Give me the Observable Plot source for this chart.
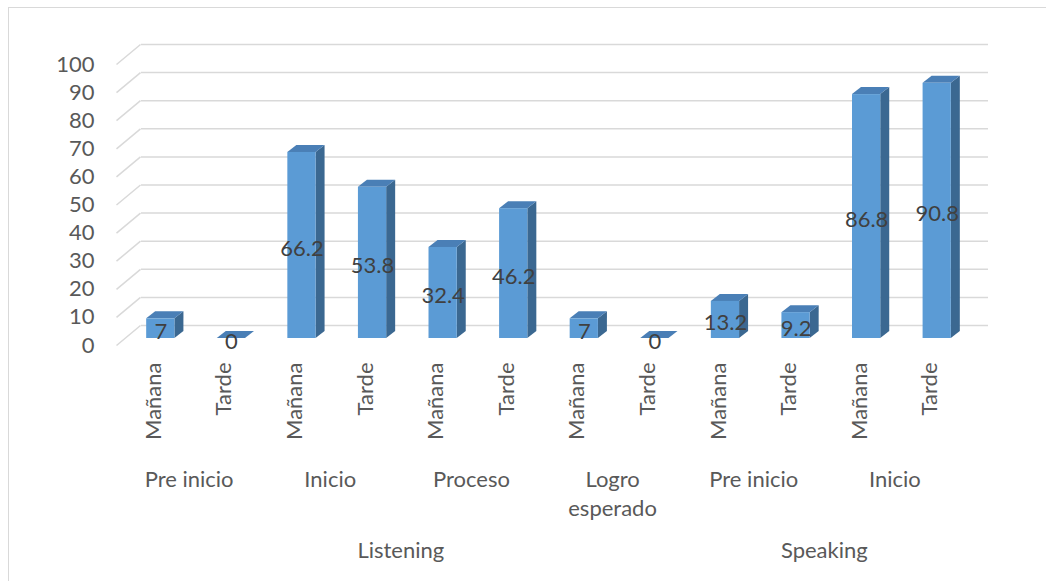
<!DOCTYPE html>
<html><head><meta charset="utf-8">
<script src="https://cdn.jsdelivr.net/npm/d3@7"></script>
<script src="https://cdn.jsdelivr.net/npm/@observablehq/plot@0.6"></script>
<style>
body{margin:0;background:#fff;overflow:hidden}
#chart{position:absolute;left:0;top:0}
#frame{position:absolute;left:8px;top:7px;width:1100px;height:640px;border-left:1.5px solid #d9d9d9;border-top:1.5px solid #d9d9d9;pointer-events:none}
</style></head><body>
<div id="chart"></div><div id="frame"></div>
<script>
// ---- data ----
const categories = ["Mañana","Tarde","Mañana","Tarde","Mañana","Tarde","Mañana","Tarde","Mañana","Tarde","Mañana","Tarde"];
const levels = ["Pre inicio","Pre inicio","Inicio","Inicio","Proceso","Proceso","Logro\nesperado","Logro\nesperado","Pre inicio","Pre inicio","Inicio","Inicio"];
const skills = ["Listening","Listening","Listening","Listening","Listening","Listening","Listening","Listening","Speaking","Speaking","Speaking","Speaking"];
const values = [7, 0, 66.2, 53.8, 32.4, 46.2, 7, 0, 13.2, 9.2, 86.8, 90.8];
const yTicks = [0,10,20,30,40,50,60,70,80,90,100];

// ---- layout ----
const W = 1046, H = 581, ML = 125, MR = 74, MT = 57, MB = 243;
const kx = (W - ML - MR) / categories.length; // px per x unit
const ky = (H - MT - MB) / 100;               // px per y unit
const half = 0.2;                 // half bar width (x units)
const dX = 9 / kx, dY = 7 / ky;   // bar depth
const FONT = 22;

const bars = values.map((v, i) => ({i, v, cat: categories[i]}));
const sideFace = bars.flatMap(d => [
  {i: d.i, x: d.i + half, y1: 0, y2: d.v},
  {i: d.i, x: d.i + half + dX, y1: dY, y2: d.v + dY}
]);
const topFace = bars.flatMap(d => [
  {i: d.i, y: d.v, x1: d.i - half, x2: d.i + half},
  {i: d.i, y: d.v + dY, x1: d.i - half + dX, x2: d.i + half + dX}
]);

function runs(labels) {
  const out = [];
  labels.forEach((l, i) => {
    const last = out[out.length - 1];
    if (last && last.label === l) last.end = i;
    else out.push({label: l, start: i, end: i});
  });
  return out.map(r => ({label: r.label, x: (r.start + r.end) / 2}));
}

const chart = Plot.plot({
  width: W, height: H,
  marginLeft: ML, marginRight: MR, marginTop: MT, marginBottom: MB,
  style: {fontFamily: "Lato, sans-serif", color: "#595959", background: "transparent"},
  x: {domain: [-0.5, categories.length - 0.5], axis: null},
  y: {domain: [0, 100]},
  marks: [
    // back wall gridlines
    Plot.ruleY(yTicks, {y: d => d, x1: () => -0.5, x2: () => categories.length - 0.5, dx: 16, dy: -13, stroke: "#d9d9d9", strokeWidth: 1.5}),
    Plot.link(yTicks, {x1: () => -0.5, x2: () => -0.5 + 24 / kx, y1: d => d, y2: d => d + 20 / ky, dx: -9, dy: 7, stroke: "#d9d9d9", strokeWidth: 1.5}),
    Plot.axisY(yTicks, {tickSize: 0, tickPadding: 31, dy: 7, fontSize: FONT, label: null, fill: "#595959"}),
    // 3D bars
    Plot.areaY(sideFace, {x: "x", y1: "y1", y2: "y2", z: "i", fill: "#3b6891"}),
    Plot.areaX(topFace, {y: "y", x1: "x1", x2: "x2", z: "i", fill: "#4a7fb6"}),
    Plot.rect(bars, {x1: d => d.i - half, x2: d => d.i + half, y1: () => 0, y2: "v", fill: "#5b9bd5"}),
    // data labels
    Plot.text(bars, {x: "i", y: d => d.v / 2, text: d => String(d.v), fill: "#404040", fontSize: FONT, dy: 3}),
    // category labels
    Plot.text(bars, {x: "i", text: "cat", frameAnchor: "bottom", rotate: -90, textAnchor: "end", lineAnchor: "middle", dy: 24, dx: -7, fontSize: FONT, fill: "#595959"}),
    Plot.text(runs(levels), {x: "x", text: "label", frameAnchor: "bottom", lineAnchor: "top", dy: 128, dx: -7, lineHeight: 1.32, fontSize: FONT, fill: "#595959"}),
    Plot.text(runs(skills), {x: "x", text: "label", frameAnchor: "bottom", lineAnchor: "top", dy: 204, dx: -7, fontSize: FONT, fill: "#595959"})
  ]
});
document.getElementById("chart").appendChild(chart);
</script>
</body></html>
